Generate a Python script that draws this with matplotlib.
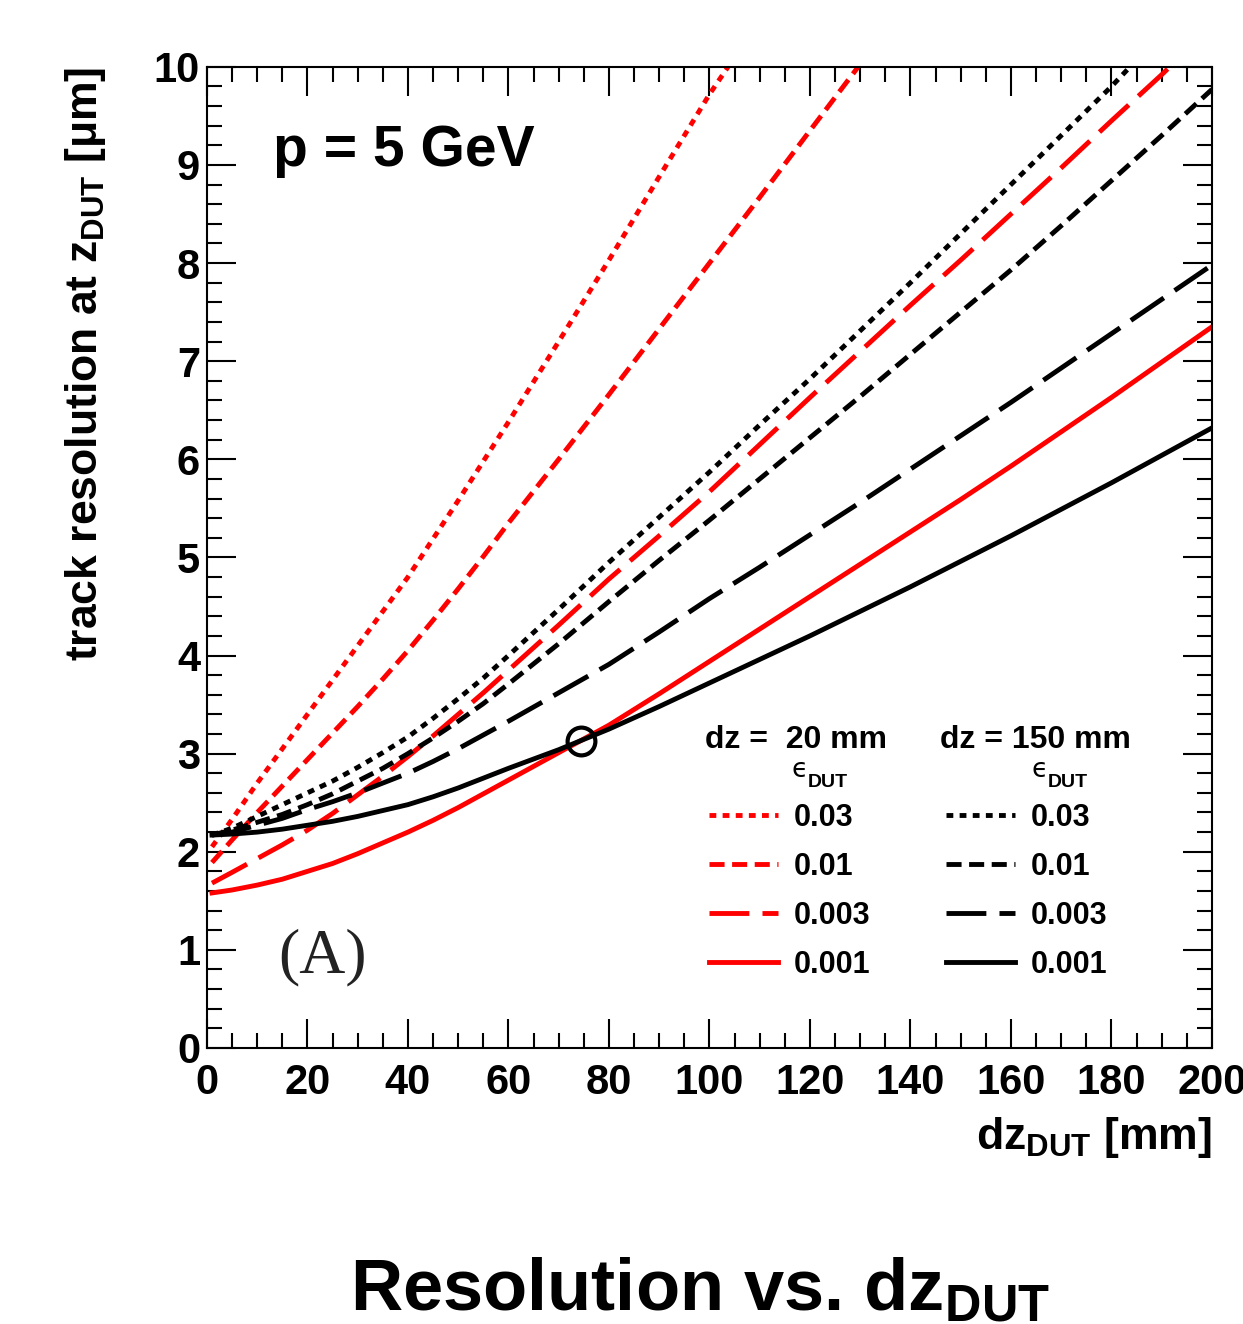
import numpy as np
import matplotlib
matplotlib.use('Agg')
import matplotlib.pyplot as plt
from matplotlib.ticker import MultipleLocator

plt.rcParams['font.family'] = ['Liberation Sans', 'DejaVu Sans']
plt.rcParams['font.weight'] = 'bold'
plt.rcParams['axes.labelweight'] = 'bold'
plt.rcParams['mathtext.fontset'] = 'custom'
plt.rcParams['mathtext.rm'] = 'Liberation Sans:bold'
plt.rcParams['mathtext.bf'] = 'Liberation Sans:bold'
plt.rcParams['mathtext.it'] = 'Liberation Sans:bold'

# dz_DUT [mm] grid (finer near the start where the curves bend)
dz = [1, 5, 10, 15, 20, 25, 30, 35, 40, 45, 50, 55, 60,
      70, 80, 90, 100, 110, 120, 130, 140, 150, 160, 170, 180, 190, 200]

# dz = 20 mm (red)
dz_r003 = dz[:17] + [103.7]
res_r003 = [2.05, 2.33, 2.70, 3.05, 3.40, 3.75, 4.10, 4.45, 4.80, 5.19, 5.58,
            5.98, 6.38, 7.20, 8.03, 8.88, 9.72, 10.0]
dz_r001 = dz[:19] + [129.6]
res_r001 = [1.89, 2.12, 2.40, 2.67, 2.94, 3.21, 3.48, 3.76, 4.05, 4.36, 4.68,
            5.01, 5.35, 6.00, 6.66, 7.33, 8.00, 8.67, 9.35, 10.0]
dz_r0003 = dz[:-1] + [191.6]
res_r0003 = [1.68, 1.79, 1.93, 2.07, 2.22, 2.39, 2.58, 2.77, 2.97, 3.18, 3.40,
             3.62, 3.85, 4.31, 4.78, 5.22, 5.67, 6.15, 6.63, 7.10, 7.57, 8.03,
             8.50, 8.97, 9.45, 9.92, 10.0]
res_r0001 = [1.58, 1.61, 1.66, 1.72, 1.80, 1.88, 1.98, 2.09, 2.20, 2.32, 2.45,
             2.59, 2.73, 3.01, 3.29, 3.61, 3.94, 4.27, 4.60, 4.93, 5.26, 5.59,
             5.93, 6.28, 6.63, 6.99, 7.35]

# dz = 150 mm (black)
dz_b003 = dz[:-2] + [183.7]
res_b003 = [2.17, 2.24, 2.36, 2.48, 2.60, 2.72, 2.86, 3.01, 3.17, 3.36, 3.56,
            3.77, 4.00, 4.47, 4.95, 5.41, 5.87, 6.35, 6.82, 7.31, 7.80, 8.30,
            8.80, 9.30, 9.80, 10.0]
res_b001 = [2.17, 2.22, 2.30, 2.38, 2.48, 2.59, 2.72, 2.85, 3.00, 3.16, 3.33,
            3.51, 3.71, 4.12, 4.55, 4.97, 5.38, 5.80, 6.22, 6.64, 7.07, 7.50,
            7.93, 8.38, 8.84, 9.30, 9.77]
res_b0003 = [2.17, 2.20, 2.27, 2.34, 2.43, 2.51, 2.60, 2.70, 2.80, 2.92, 3.05,
             3.19, 3.33, 3.62, 3.91, 4.24, 4.58, 4.90, 5.23, 5.56, 5.90, 6.24,
             6.58, 6.93, 7.28, 7.63, 7.98]
res_b0001 = [2.17, 2.18, 2.20, 2.23, 2.27, 2.31, 2.36, 2.42, 2.48, 2.56, 2.65,
             2.75, 2.85, 3.04, 3.25, 3.48, 3.72, 3.96, 4.20, 4.45, 4.70, 4.96,
             5.22, 5.49, 5.76, 6.04, 6.32]

eps_labels = ['0.03', '0.01', '0.003', '0.001']
cross_x = [74.4]
cross_y = [3.13]

dotted = (1.4, 1.3)
dashed = (3.1, 1.55)
longdash = (8.2, 2.7)
lw = 3.5

fig = plt.figure(figsize=(12.43, 13.24), dpi=100)
ax = fig.add_axes([0.1665, 0.2085, 0.8085, 0.741])

red = []
red.append(ax.plot(dz_r003, res_r003, color='red', lw=lw, dashes=dotted)[0])
red.append(ax.plot(dz_r001, res_r001, color='red', lw=lw, dashes=dashed)[0])
red.append(ax.plot(dz_r0003, res_r0003, color='red', lw=lw, dashes=longdash)[0])
red.append(ax.plot(dz, res_r0001, color='red', lw=lw)[0])

black = []
black.append(ax.plot(dz_b003, res_b003, color='black', lw=lw, dashes=dotted)[0])
black.append(ax.plot(dz, res_b001, color='black', lw=lw, dashes=dashed)[0])
black.append(ax.plot(dz, res_b0003, color='black', lw=lw, dashes=longdash)[0])
black.append(ax.plot(dz, res_b0001, color='black', lw=lw)[0])

ax.plot(cross_x, cross_y, 'o', mfc='none', mec='black', ms=20, mew=3, zorder=5)

ax.set_xlim(0, 200)
ax.set_ylim(0, 10)
ax.set_xticks(np.arange(0, 201, 20))
ax.set_yticks(np.arange(0, 11, 1))
ax.xaxis.set_minor_locator(MultipleLocator(5))
ax.yaxis.set_minor_locator(MultipleLocator(0.2))
ax.tick_params(which='both', direction='in', top=True, right=True, width=1.5)
ax.tick_params(which='major', length=21, labelsize=30)
ax.tick_params(which='minor', length=10.5)
ax.tick_params(axis='x', which='major', pad=11)
ax.tick_params(axis='y', which='major', pad=5)
for s in ax.spines.values():
    s.set_linewidth(1.5)

ax.set_xlabel(r'dz$_{\mathrm{DUT}}$ [mm]', fontsize=32, loc='right')
ax.xaxis.set_label_coords(1.0, -0.068)
ax.set_ylabel(r'track resolution at z$_{\mathrm{DUT}}$ [μm]', fontsize=32, loc='top')
ax.yaxis.set_label_coords(-0.098, 1.0)

ax.text(0.0657, 0.899, 'p = 5 GeV', transform=ax.transAxes, fontsize=41,
        va='baseline')
ax.text(0.0706, 0.0765, '(A)', transform=ax.transAxes, fontsize=46,
        family='Liberation Serif', weight='normal', color='#222222',
        va='baseline')

ax.text(0.4955, 0.3058, 'dz =  20 mm', transform=ax.transAxes, fontsize=23,
        va='baseline')
ax.text(0.7294, 0.3058, 'dz = 150 mm', transform=ax.transAxes, fontsize=23,
        va='baseline')
for ex, dx in [(0.5821, 0.598), (0.8209, 0.8368)]:
    ax.text(ex, 0.2763, '\u03f5', transform=ax.transAxes, fontsize=19,
            family='DejaVu Sans', weight='normal', va='baseline')
    ax.text(dx, 0.266, 'DUT', transform=ax.transAxes, fontsize=14,
            va='baseline')

ax.legend(red + black, eps_labels + eps_labels, ncol=2, frameon=False,
          fontsize=22, handlelength=2.25, handletextpad=0.5, columnspacing=2.5,
          labelspacing=0.62, loc='upper left', bbox_to_anchor=(0.5, 0.25),
          borderaxespad=0, borderpad=0)

fig.text(0.563, 0.0106, r'Resolution vs. dz$_{\mathrm{DUT}}$', ha='center',
         va='baseline', fontsize=52)

fig.savefig('out.png', dpi=100)
